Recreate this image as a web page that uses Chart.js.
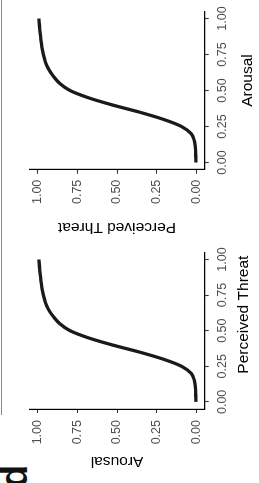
<!DOCTYPE html>
<html>
<head>
<meta charset="utf-8">
<script src="https://cdn.jsdelivr.net/npm/chart.js@4/dist/chart.umd.min.js"></script>
<style>
  html, body { margin: 0; padding: 0; background: #fff; overflow: hidden; }
  #fig {
    position: absolute; left: 0; top: 0; width: 483px; height: 259px;
    transform-origin: 0 0; transform: translate(0, 483px) rotate(-90deg);
  }
  #fig canvas { position: absolute; top: 0; }
  .rule { position: absolute; left: 68px; top: 1px; width: 415px; height: 1px; background: #8c8c8c; }
  .tag { position: absolute; left: -5px; top: -5px; font: bold 38px 'Liberation Sans', Arial, sans-serif; line-height: 38px; color: #111; }
</style>
</head>
<body>
<div id="fig">
  <div class="rule"></div>
  <div class="tag">d</div>
  <canvas id="left" width="242" height="259" style="left:0"></canvas>
  <canvas id="right" width="241" height="259" style="left:242px"></canvas>
</div>
<script>
// values (both panels show the same fitted curve)
const threatGrid = [0, 0.05, 0.1, 0.15, 0.2, 0.25, 0.3, 0.35, 0.4, 0.45, 0.5, 0.55, 0.6, 0.65, 0.7, 0.75, 0.8, 0.85, 0.9, 0.95, 1];
const arousalFromThreat = [0.005, 0.006, 0.008, 0.015, 0.035, 0.095, 0.21, 0.36, 0.53, 0.68, 0.795, 0.86, 0.90, 0.93, 0.95, 0.962, 0.971, 0.977, 0.982, 0.986, 0.99];

const arousalGrid = [0, 0.05, 0.1, 0.15, 0.2, 0.25, 0.3, 0.35, 0.4, 0.45, 0.5, 0.55, 0.6, 0.65, 0.7, 0.75, 0.8, 0.85, 0.9, 0.95, 1];
const threatFromArousal = [0.005, 0.006, 0.008, 0.015, 0.035, 0.095, 0.21, 0.36, 0.53, 0.68, 0.795, 0.86, 0.90, 0.93, 0.95, 0.962, 0.971, 0.977, 0.982, 0.986, 0.99];

const tickValues = [0, 0.25, 0.5, 0.75, 1];
const tickLabels = ['0.00', '0.25', '0.50', '0.75', '1.00'];

const sans = "'Liberation Sans', Arial, sans-serif";

// x title is drawn by hand: in the figure it sits a bit right of the panel centre
const xTitlePlugin = {
    id: 'xTitle',
    afterDraw(chart, args, opts) {
        const { ctx, chartArea } = chart;
        ctx.save();
        ctx.font = '15.5px ' + sans;
        ctx.fillStyle = '#000';
        ctx.textAlign = 'center';
        ctx.textBaseline = 'middle';
        ctx.fillText(opts.text, (chartArea.left + chartArea.right) / 2 + opts.shift, opts.y);
        ctx.restore();
    }
};

function axis(size, isX, tickPad) {
    return {
        type: 'linear',
        min: -0.05,
        max: 1.05,
        afterBuildTicks: s => { s.ticks = tickValues.map(v => ({ value: v })); },
        afterFit: s => { if (isX) s.height = size; else s.width = size; },
        border: { display: true, color: '#000', width: 1.2 },
        grid: { display: true, drawOnChartArea: false, drawTicks: true, tickLength: 4, tickColor: '#333', tickWidth: 1.1 },
        ticks: {
            callback: (v, i) => tickLabels[i],
            color: '#4d4d4d',
            font: { family: sans, size: 12.5 },
            padding: tickPad,
            autoSkip: false,
            maxRotation: 0,
            minRotation: 0
        }
    };
}

function panel(id, xs, ys, xTitle, yTitle, box) {
    const points = xs.map((x, i) => ({ x: x, y: ys[i] }));
    const yAxis = axis(box.yWidth, false, box.yTickPad);
    yAxis.title = { display: true, text: yTitle, color: '#000', font: { family: sans, size: 15.5 }, padding: { top: box.yTitlePad, bottom: 0 } };
    return new Chart(document.getElementById(id), {
        type: 'scatter',
        data: {
            datasets: [{
                data: points,
                showLine: true,
                borderColor: '#1a1a1a',
                borderWidth: 3.3,
                pointRadius: 0,
                cubicInterpolationMode: 'monotone',
                fill: false
            }]
        },
        options: {
            responsive: false,
            animation: false,
            events: [],
            layout: { padding: { left: 0, top: box.top, right: box.right, bottom: 0 } },
            plugins: {
                legend: { display: false },
                tooltip: { enabled: false },
                xTitle: { text: xTitle, shift: box.xShift, y: box.xTitleY }
            },
            scales: {
                x: axis(box.xHeight, true, 6),
                y: yAxis
            }
        },
        plugins: [xTitlePlugin]
    });
}

panel('left', threatGrid, arousalFromThreat, 'Perceived Threat', 'Arousal',
    { top: 29.3, right: 6.7, xHeight: 54.3, yWidth: 74, yTickPad: 7, yTitlePad: 12.7, xShift: 16, xTitleY: 244 });
panel('right', arousalGrid, threatFromArousal, 'Arousal', 'Perceived Threat',
    { top: 29.3, right: 7.6, xHeight: 54.3, yWidth: 71.3, yTickPad: 6, yTitlePad: 4.2, xShift: 10, xTitleY: 248 });
</script>
</body>
</html>
